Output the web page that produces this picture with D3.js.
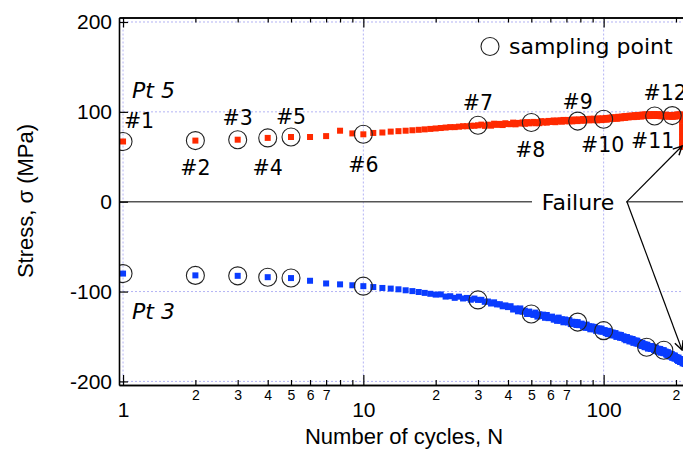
<!DOCTYPE html>
<html>
<head>
<meta charset="utf-8">
<script src="https://cdn.jsdelivr.net/npm/d3@7"></script>
<style>
  body { margin: 0; background: #fff; }
  svg { display: block; }
  .axis text { font-family: "Liberation Sans", Arial, sans-serif; fill: #000; }
  .note { font-family: "DejaVu Sans", Verdana, sans-serif; fill: #000; }
</style>
</head>
<body>
<div id="chart"></div>
<script>
// stress per cycle, N = 1, 2, 3 ...
const pt5Stress = [
  67, 68, 69, 71, 72, 72, 73, 79, 76, 75,
  76.5, 77, 78, 78.5, 79, 79.5, 80, 80.5, 81, 81.5,
  82, 82.5, 83, 83, 83.5, 84, 84, 84.5, 84.5, 85,
  85.8, 84.4, 85.7, 84.6, 86.8, 85.5, 86.6, 85.3, 87.3, 86.4,
  86.3, 88, 86.1, 87.7, 87, 88.2, 86.7, 88.6, 87.2, 88.1,
  88.8, 87.3, 88.6, 87.4, 89.6, 88.2, 89.3, 88, 89.9, 88.9,
  88.8, 90.4, 88.5, 90.1, 89.4, 90.6, 89.1, 91, 89.5, 90.4,
  91, 89.5, 90.6, 89.4, 91.5, 90, 91.1, 89.7, 91.6, 90.6,
  90.5, 92, 90.1, 91.6, 90.9, 92, 90.5, 92.3, 90.9, 91.7,
  92.3, 90.7, 91.9, 90.6, 92.7, 91.2, 92.3, 90.8, 92.7, 91.7,
  91.6, 93.2, 91.3, 92.9, 92.2, 93.4, 91.9, 93.8, 92.4, 93.3,
  93.9, 92.4, 93.6, 92.4, 94.5, 93.1, 94.2, 92.8, 94.7, 93.7,
  93.6, 95.2, 93.3, 94.9, 94.2, 95.3, 93.8, 95.7, 94.3, 95.2,
  95.8, 94.2, 95.4, 94.2, 96.3, 94.8, 95.9, 94.5, 96.4, 95.3,
  95.2, 96.7, 94.8, 96.4, 95.6, 96.8, 95.2, 97.1, 95.6, 96.5,
  97, 95.4, 96.6, 95.3, 97.3, 95.9, 96.9, 95.4, 97.2, 96.1,
  95.9, 97.4, 95.4, 96.9, 96, 97.1, 95.5, 97.3, 95.7, 96.5,
  97, 95.3, 96.4, 95.1, 97, 95.5, 96.5, 94.9, 96.7, 95.6,
  95.3, 96.8, 94.8, 96.2, 95.4, 96.4, 94.8, 96.5, 95, 95.7,
  96.2, 94.7, 95.8, 94.6, 96.6, 95.2, 96.2, 94.8, 96.6, 95.6,
  95.4, 97, 95, 96.6, 95.8, 96.9, 95.4, 97.2, 95.7, 96.5,
  96
];
// stress drop at failure of Pt 5
const pt5FailN = 212;
const pt5FailStress = [90, 84, 78, 72, 66, 61];

const pt3Stress = [
  -80, -82, -82.5, -84, -85, -88, -91, -92, -93, -94,
  -95, -96, -96.7, -97.5, -98.6, -99.5, -100.5, -101.5, -102.5, -103.4,
  -103.2, -105.6, -105.2, -107, -105.7, -107.7, -107.1, -109.1, -107.8, -109.3,
  -109.2, -111.4, -111.1, -113.3, -112, -114.3, -114.1, -116.4, -115.4, -117.3,
  -116.3, -120, -118.8, -122, -118.8, -122.5, -121.3, -125, -122.3, -125,
  -126, -123.4, -127.9, -125.3, -127.3, -125.7, -129.2, -126.1, -129.6, -128.5,
  -127.9, -131.3, -129.7, -132.6, -129, -132.4, -130.8, -134.2, -131.1, -133.5,
  -134.4, -131.8, -136.2, -133.6, -135.5, -133.8, -137.2, -134, -137.4, -136.3,
  -135.7, -139.1, -137.5, -140.4, -136.8, -140.2, -138.6, -142, -138.8, -141.1,
  -142, -139.3, -143.7, -141, -142.8, -141.1, -144.5, -141.3, -144.7, -143.5,
  -142.9, -146.2, -144.5, -147.4, -143.7, -147.1, -145.4, -148.8, -145.6, -148,
  -148.8, -146.2, -150.5, -147.9, -149.7, -148.1, -151.4, -148.3, -151.6, -150.5,
  -149.8, -153.1, -151.4, -154.2, -150.6, -153.9, -152.2, -155.5, -152.3, -154.7,
  -155.5, -152.8, -157.1, -154.4, -156.3, -154.6, -157.9, -154.7, -158, -156.9,
  -156.2, -159.5, -157.8, -160.6, -157, -160.3, -158.6, -161.9, -158.8, -161.1,
  -162, -159.2, -163.5, -160.7, -162.4, -160.7, -163.9, -160.6, -163.8, -162.6,
  -161.8, -165, -163.3, -166, -162.2, -165.5, -163.7, -166.9, -163.7, -165.9,
  -166.6, -163.9, -168.1, -165.3, -167.1, -165.3, -168.5, -165.3, -168.6, -167.4,
  -166.7, -170, -168.3, -171.1, -167.4, -170.7, -169, -172.3, -169.1, -171.4,
  -172.2, -169.5, -173.8, -171.1, -172.9, -171.2, -174.5, -171.3, -174.6, -173.5,
  -172.8, -176.1, -174.4, -177.2, -173.5, -176.8, -175.1, -178.4, -175.2, -177.5,
  -178.3, -175.6, -179.9, -177.2, -179, -177.3, -180.6, -177.4, -180.7, -179.5
];

// sampling points (cycle numbers)
const pt5Samples = [1, 2, 3, 4, 5, 10, 30, 50, 78, 100, 163, 193];
const pt3Samples = [1, 2, 3, 4, 5, 10, 30, 50, 78, 100, 151, 178];
const sampleLabels = ["#1", "#2", "#3", "#4", "#5", "#6", "#7", "#8", "#9", "#10", "#11", "#12"];

const yTicks = [-200, -100, 0, 100, 200];
const xMajor = [1, 10, 100];
const xMinor = [2, 3, 4, 5, 6, 7, 8, 9, 20, 30, 40, 50, 60, 70, 80, 90, 200];
const gridY = [-200, -100, 100, 200];

const failureAt = { n: 125, s: 0 };
const failureTips = [{ n: 212, s: 62 }, { n: 212, s: -165 }];

// label offsets from each circle (layout only)
const labelOffsets = [[16, -13], [0, 34], [0, -15], [0, 37], [0, -13], [0, 38],
  [0, -15], [-1, 34], [0, -12], [-1, 33], [-2, 32], [-7, -16]];

const W = 683, H = 450;
const pLeft = 119, pTop = 17.5, pBottom = 385, pRight = 695;

const svg = d3.select("#chart").append("svg")
  .attr("width", W).attr("height", H);

const x = d3.scaleLog().domain([0.962, 240]).range([pLeft, pRight]);
const y = d3.scaleLinear().domain([-204, 205]).range([pBottom, pTop]);

const pt5 = pt5Stress.map((s, i) => ({ n: i + 1, s }));
const pt3 = pt3Stress.map((s, i) => ({ n: i + 1, s }));
pt5FailStress.forEach(s => pt5.push({ n: pt5FailN, s }));

svg.append("clipPath").attr("id", "plot")
  .append("rect").attr("x", pLeft).attr("y", pTop)
  .attr("width", pRight - pLeft).attr("height", pBottom - pTop);

// grid
const grid = svg.append("g").attr("stroke", "#b4b4f4").attr("stroke-width", 1)
  .attr("stroke-dasharray", "2,2");
grid.selectAll(".gx").data(xMajor).enter().append("line")
  .attr("x1", d => x(d)).attr("x2", d => x(d))
  .attr("y1", pTop).attr("y2", pBottom);
grid.selectAll(".gy").data(gridY).enter().append("line")
  .attr("x1", pLeft).attr("x2", pRight)
  .attr("y1", d => y(d)).attr("y2", d => y(d));

// zero line
svg.append("line")
  .attr("x1", pLeft).attr("x2", pRight)
  .attr("y1", y(0)).attr("y2", y(0))
  .attr("stroke", "#555").attr("stroke-width", 1.6);

// data
const plot = svg.append("g").attr("clip-path", "url(#plot)");
plot.selectAll(".p5").data(pt5).enter().append("rect")
  .attr("x", d => x(d.n) - 3).attr("y", d => y(d.s) - 3)
  .attr("width", 6).attr("height", 6).attr("fill", "#ff2a00");
plot.selectAll(".p3").data(pt3).enter().append("rect")
  .attr("x", d => x(d.n) - 3).attr("y", d => y(d.s) - 3)
  .attr("width", 6).attr("height", 6).attr("fill", "#0a3cff");

// sampling circles
const circ = (list, series) => list.map(n => ({ n, s: series[n - 1] }));
const c5 = circ(pt5Samples, pt5Stress);
const c3 = circ(pt3Samples, pt3Stress);
plot.selectAll(".c").data(c5.concat(c3)).enter().append("circle")
  .attr("cx", d => x(d.n)).attr("cy", d => y(d.s)).attr("r", 9)
  .attr("fill", "none").attr("stroke", "#222").attr("stroke-width", 1.1);

// sample labels
svg.selectAll(".lab").data(c5).enter().append("text")
  .attr("class", "note")
  .attr("x", (d, i) => x(d.n) + labelOffsets[i][0])
  .attr("y", (d, i) => y(d.s) + labelOffsets[i][1])
  .attr("text-anchor", "middle")
  .style("font-size", "20.5px")
  .text((d, i) => sampleLabels[i]);

// axes
function styleAxis(g) {
  g.selectAll("path.domain").attr("stroke", "#000").attr("stroke-width", 1.6);
  g.selectAll(".tick line").attr("stroke", "#000").attr("stroke-width", 1.2);
}
svg.append("g").attr("class", "axis")
  .attr("transform", `translate(0,${pBottom})`)
  .call(d3.axisBottom(x).tickValues(xMinor).tickSize(-5).tickSizeOuter(0).tickPadding(5)
    .tickFormat(d => { const m = d / Math.pow(10, Math.floor(Math.log10(d) + 1e-9)); return m <= 7 ? String(Math.round(m)) : ""; }))
  .call(g => g.selectAll("text").style("font-size", "14px"))
  .call(styleAxis);
svg.append("g").attr("class", "axis")
  .attr("transform", `translate(0,${pBottom})`)
  .call(d3.axisBottom(x).tickValues(xMajor).tickSize(-10).tickSizeOuter(0).tickPadding(17)
    .tickFormat(d => String(d)))
  .call(g => g.selectAll("text").style("font-size", "21px"))
  .call(styleAxis);
svg.append("g").attr("class", "axis")
  .attr("transform", `translate(0,${pTop})`)
  .call(d3.axisTop(x).tickValues(xMinor).tickSize(-5).tickSizeOuter(0).tickFormat(""))
  .call(styleAxis);
svg.append("g").attr("class", "axis")
  .attr("transform", `translate(0,${pTop})`)
  .call(d3.axisTop(x).tickValues(xMajor).tickSize(-10).tickSizeOuter(0).tickFormat(""))
  .call(styleAxis);
svg.append("g").attr("class", "axis")
  .attr("transform", `translate(${pLeft},0)`)
  .call(d3.axisLeft(y).tickValues(yTicks).tickSize(-9).tickSizeOuter(0).tickPadding(7)
    .tickFormat(d => String(d)))
  .call(g => g.selectAll("text").style("font-size", "21px"))
  .call(styleAxis);

// axis titles
svg.append("text")
  .attr("x", 404).attr("y", 444).attr("text-anchor", "middle")
  .style("font-family", "'Liberation Sans', Arial, sans-serif").style("font-size", "22px")
  .text("Number of cycles, N");
svg.append("text")
  .attr("transform", `translate(33,201) rotate(-90)`).attr("text-anchor", "middle")
  .style("font-family", "'Liberation Sans', Arial, sans-serif").style("font-size", "22px")
  .text("Stress, σ (MPa)");

// series names
svg.append("text").attr("class", "note").attr("x", 132).attr("y", 98)
  .style("font-size", "22px").style("font-style", "italic").text("Pt 5");
svg.append("text").attr("class", "note").attr("x", 132).attr("y", 319)
  .style("font-size", "22px").style("font-style", "italic").text("Pt 3");

// legend
svg.append("circle").attr("cx", 490).attr("cy", 46.5).attr("r", 9)
  .attr("fill", "none").attr("stroke", "#222").attr("stroke-width", 1.1);
svg.append("text").attr("class", "note").attr("x", 509).attr("y", 54)
  .style("font-size", "22px").text("sampling point");

// failure annotation
svg.append("rect").attr("x", 532).attr("y", y(0) - 3).attr("width", 94).attr("height", 6)
  .attr("fill", "#fff");
svg.append("text").attr("class", "note").attr("x", 578).attr("y", y(0) + 8)
  .attr("text-anchor", "middle").style("font-size", "22px").text("Failure");

svg.append("defs").append("marker").attr("id", "arrow")
  .attr("viewBox", "0 0 10 10").attr("refX", 9).attr("refY", 5)
  .attr("markerWidth", 11).attr("markerHeight", 11).attr("markerUnits", "userSpaceOnUse")
  .attr("orient", "auto")
  .append("path").attr("d", "M1,1 L9,5 L1,9").attr("fill", "none")
  .attr("stroke", "#000").attr("stroke-width", 1.3);

svg.selectAll(".arr").data(failureTips).enter().append("line")
  .attr("x1", x(failureAt.n)).attr("y1", y(failureAt.s))
  .attr("x2", d => x(d.n)).attr("y2", d => y(d.s))
  .attr("stroke", "#000").attr("stroke-width", 1.2)
  .attr("marker-end", "url(#arrow)");
</script>
</body>
</html>
